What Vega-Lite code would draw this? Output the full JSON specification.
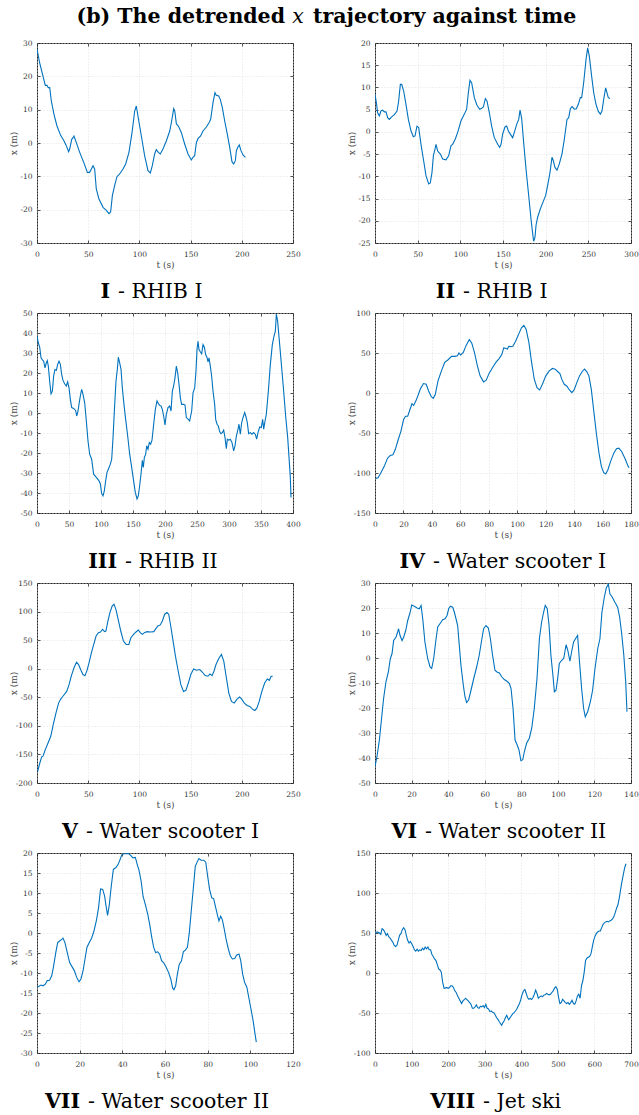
{
  "$schema": "https://vega.github.io/schema/vega-lite/v6.json",
  "background": "white",
  "padding": {"left": 8, "top": 7, "right": 4, "bottom": 4},
  "bounds": "flush",
  "spacing": 19,
  "datasets": {
    "p1": [{"t":0,"x":28.2},{"t":2.6,"x":24},{"t":5.9,"x":20},{"t":8.1,"x":17.3},{"t":9.8,"x":17.3},{"t":11,"x":16.6},{"t":12.4,"x":16.6},{"t":14,"x":12.6},{"t":16.6,"x":8.6},{"t":19.5,"x":5.1},{"t":23.1,"x":2.3},{"t":26.4,"x":0.6},{"t":28.6,"x":-0.8},{"t":30.9,"x":-2.6},{"t":31.9,"x":-1.8},{"t":33.9,"x":1.1},{"t":35.2,"x":1.6},{"t":36.1,"x":2.1},{"t":38.4,"x":0.1},{"t":41.7,"x":-2.8},{"t":45.6,"x":-5.8},{"t":49.2,"x":-8.8},{"t":51.4,"x":-8.8},{"t":53.1,"x":-7.8},{"t":54.7,"x":-6.8},{"t":56.3,"x":-7.8},{"t":57.9,"x":-13.8},{"t":60.5,"x":-16.8},{"t":64.5,"x":-19.3},{"t":67.7,"x":-20.2},{"t":70.3,"x":-21.2},{"t":71.9,"x":-20.7},{"t":73.6,"x":-15.8},{"t":75.8,"x":-12.8},{"t":78.1,"x":-10.1},{"t":80.7,"x":-9.3},{"t":84,"x":-7.8},{"t":86.6,"x":-6.3},{"t":89.8,"x":-2.8},{"t":92.8,"x":3.1},{"t":95.4,"x":9.6},{"t":97,"x":11.1},{"t":98.6,"x":8.1},{"t":101.9,"x":2.1},{"t":105.1,"x":-3.8},{"t":108.4,"x":-8.3},{"t":110.7,"x":-9},{"t":112.6,"x":-6.8},{"t":114.9,"x":-3.3},{"t":116.5,"x":-2},{"t":118.5,"x":-2.8},{"t":120.4,"x":-3.3},{"t":123,"x":-1.8},{"t":126.3,"x":0.6},{"t":129.6,"x":3.6},{"t":131.5,"x":6.6},{"t":133.5,"x":10.3},{"t":134.5,"x":9.6},{"t":136.1,"x":5.8},{"t":138.4,"x":4.9},{"t":141,"x":3.1},{"t":144.2,"x":-0.3},{"t":147.5,"x":-3.3},{"t":150.7,"x":-5.1},{"t":152.3,"x":-4.3},{"t":154,"x":-3.8},{"t":155.6,"x":0.1},{"t":157.2,"x":1.3},{"t":159.8,"x":2.1},{"t":162.1,"x":3.6},{"t":165.4,"x":4.8},{"t":168,"x":6.1},{"t":169.6,"x":7.1},{"t":171.9,"x":12.1},{"t":173.8,"x":15.1},{"t":175.1,"x":14.3},{"t":177.4,"x":14.1},{"t":179,"x":13.1},{"t":181,"x":10.6},{"t":183.3,"x":6.6},{"t":185.9,"x":2.6},{"t":188.2,"x":-1.3},{"t":190.4,"x":-5.6},{"t":192.1,"x":-6.3},{"t":193.7,"x":-5.3},{"t":194.7,"x":-2.3},{"t":196.3,"x":-1.1},{"t":197.6,"x":-0.6},{"t":199.2,"x":-2.3},{"t":201.2,"x":-3.6},{"t":203.5,"x":-4.3}],
    "p2": [{"t":0,"x":8.4},{"t":1.6,"x":6.6},{"t":3.1,"x":4.3},{"t":5.1,"x":3.6},{"t":7,"x":4.7},{"t":9,"x":4.9},{"t":10.9,"x":4.5},{"t":12.9,"x":4.5},{"t":14.8,"x":3.2},{"t":16.8,"x":2.8},{"t":19.5,"x":3.4},{"t":22.7,"x":3.9},{"t":25.8,"x":4.7},{"t":27.7,"x":6.9},{"t":29.7,"x":10.7},{"t":31.3,"x":10.7},{"t":33.6,"x":9.2},{"t":36.3,"x":6.2},{"t":39.1,"x":2.8},{"t":42.2,"x":0.2},{"t":44.9,"x":-1.1},{"t":46.9,"x":-0.9},{"t":49.2,"x":1.3},{"t":51.2,"x":1},{"t":53.9,"x":-2.8},{"t":57,"x":-6.5},{"t":59.8,"x":-9.9},{"t":62.9,"x":-11.7},{"t":64.8,"x":-11.5},{"t":66.8,"x":-9.1},{"t":68.4,"x":-5.4},{"t":70.3,"x":-3.9},{"t":71.5,"x":-2.8},{"t":73.4,"x":-4.3},{"t":76.6,"x":-5},{"t":79.3,"x":-6.1},{"t":83.2,"x":-6.3},{"t":86.3,"x":-5.4},{"t":89.1,"x":-3.1},{"t":91,"x":-2.8},{"t":94.1,"x":-1.6},{"t":96.9,"x":-0.1},{"t":100.8,"x":2.5},{"t":104.7,"x":4},{"t":107.4,"x":5.1},{"t":109.4,"x":8.8},{"t":111.3,"x":11.6},{"t":113.3,"x":11},{"t":116.4,"x":7.7},{"t":119.5,"x":6},{"t":122.7,"x":5.1},{"t":125,"x":5.3},{"t":127,"x":5.6},{"t":129.3,"x":7.5},{"t":131.3,"x":6.9},{"t":134,"x":4.3},{"t":136.7,"x":1.3},{"t":139.8,"x":-1.3},{"t":143.8,"x":-2.8},{"t":146.1,"x":-3.5},{"t":147.7,"x":-2.8},{"t":149.6,"x":-0.5},{"t":152.3,"x":1.1},{"t":154.3,"x":1.3},{"t":156.3,"x":0.2},{"t":158.6,"x":-0.5},{"t":161.3,"x":-1.3},{"t":163.3,"x":-0.1},{"t":166,"x":1.7},{"t":168.4,"x":2.8},{"t":170,"x":4.9},{"t":171.9,"x":3},{"t":174.2,"x":-2.4},{"t":177,"x":-8.4},{"t":180.1,"x":-14.3},{"t":182.8,"x":-19.6},{"t":184.8,"x":-22.9},{"t":185.9,"x":-24.6},{"t":187.5,"x":-23.7},{"t":188.7,"x":-21},{"t":190.6,"x":-19.2},{"t":193.8,"x":-17.3},{"t":196.9,"x":-15.8},{"t":200,"x":-14.3},{"t":202.3,"x":-12.1},{"t":205.1,"x":-9.1},{"t":207.4,"x":-5.7},{"t":209,"x":-6.5},{"t":210.9,"x":-8},{"t":213.3,"x":-8.6},{"t":216,"x":-7.2},{"t":219.1,"x":-5},{"t":221.9,"x":-1.6},{"t":225,"x":2.8},{"t":227,"x":3.2},{"t":228.9,"x":5.2},{"t":230.9,"x":5.7},{"t":233.6,"x":5.1},{"t":235.9,"x":5.2},{"t":238.3,"x":6.2},{"t":240.6,"x":7.7},{"t":242.2,"x":7.7},{"t":244.5,"x":11},{"t":247.3,"x":16.3},{"t":249.2,"x":18.9},{"t":251.2,"x":17},{"t":253.9,"x":12.5},{"t":256.3,"x":8.8},{"t":259,"x":6.2},{"t":261.7,"x":4.6},{"t":264.1,"x":4},{"t":266,"x":4.7},{"t":268,"x":7.3},{"t":270.3,"x":9.9},{"t":271.9,"x":8.8},{"t":273.4,"x":7.7},{"t":275.4,"x":7.5}],
    "p3": [{"t":0,"x":38.4},{"t":2.1,"x":35},{"t":4.2,"x":32.9},{"t":6.3,"x":27.6},{"t":8.3,"x":26.7},{"t":10.4,"x":25.9},{"t":12.5,"x":22.6},{"t":14.6,"x":25.1},{"t":16.1,"x":26.2},{"t":17.7,"x":23.4},{"t":19.8,"x":15.9},{"t":21.9,"x":9.6},{"t":24,"x":10.9},{"t":26,"x":18.4},{"t":28.1,"x":21.8},{"t":30.2,"x":21.3},{"t":32.3,"x":24.3},{"t":34.4,"x":25.9},{"t":36.5,"x":24.3},{"t":38.5,"x":19.3},{"t":40.6,"x":16.3},{"t":43.2,"x":14.6},{"t":45.8,"x":13.5},{"t":47.9,"x":15.6},{"t":50,"x":12.6},{"t":52.1,"x":6.8},{"t":54.2,"x":2.7},{"t":57.3,"x":2.3},{"t":60.4,"x":1.3},{"t":62,"x":-1.5},{"t":64.1,"x":1},{"t":65.6,"x":4.3},{"t":67.7,"x":8.5},{"t":69.8,"x":11.8},{"t":71.9,"x":9.3},{"t":74.5,"x":5.1},{"t":77.1,"x":-4},{"t":79.7,"x":-14},{"t":82.3,"x":-20.6},{"t":85.4,"x":-23.1},{"t":88.5,"x":-30.6},{"t":92.7,"x":-32.2},{"t":96.9,"x":-33.9},{"t":99,"x":-35.5},{"t":101,"x":-40.2},{"t":103.1,"x":-41.4},{"t":105.2,"x":-38.9},{"t":107.3,"x":-33.9},{"t":109.4,"x":-29.7},{"t":111.5,"x":-28.1},{"t":114.6,"x":-25.6},{"t":116.7,"x":-23.1},{"t":118.8,"x":-12.3},{"t":121.4,"x":4.3},{"t":123.4,"x":15.9},{"t":125.5,"x":21.8},{"t":127.1,"x":27.9},{"t":129.2,"x":25.1},{"t":131.3,"x":21.8},{"t":133.3,"x":12.6},{"t":135.9,"x":4.3},{"t":138.5,"x":-3.2},{"t":141.7,"x":-11.5},{"t":144.8,"x":-20.6},{"t":147.9,"x":-27.2},{"t":151,"x":-33.9},{"t":153.6,"x":-39.7},{"t":156.3,"x":-43},{"t":158.3,"x":-41.4},{"t":160.4,"x":-36.4},{"t":162.5,"x":-30.6},{"t":164.6,"x":-23.6},{"t":166.1,"x":-27.2},{"t":167.7,"x":-22.3},{"t":169.8,"x":-20.6},{"t":171.4,"x":-16.4},{"t":173.4,"x":-18.1},{"t":175.5,"x":-14.8},{"t":177.6,"x":-15.6},{"t":179.7,"x":-13.6},{"t":182.3,"x":-5.6},{"t":184.9,"x":1.8},{"t":187.5,"x":6},{"t":189.6,"x":4.7},{"t":191.7,"x":3.8},{"t":193.8,"x":3.5},{"t":195.8,"x":1.8},{"t":197.9,"x":-1.5},{"t":200,"x":-6},{"t":202.1,"x":-0.7},{"t":204.7,"x":2.7},{"t":207.3,"x":3.5},{"t":209.4,"x":1},{"t":211.5,"x":11},{"t":213.5,"x":13.5},{"t":215.6,"x":17.6},{"t":217.7,"x":23.4},{"t":219.8,"x":20.1},{"t":221.9,"x":14.3},{"t":224,"x":7.6},{"t":226,"x":4.3},{"t":229.2,"x":4.3},{"t":231.3,"x":4},{"t":233.3,"x":-2.3},{"t":236.5,"x":-3.2},{"t":238.5,"x":-4},{"t":241.7,"x":1},{"t":243.8,"x":10.1},{"t":246.4,"x":12.6},{"t":248.4,"x":20.9},{"t":250,"x":31.7},{"t":251.6,"x":35.9},{"t":253.1,"x":31.7},{"t":255.2,"x":30.6},{"t":257.3,"x":29.6},{"t":259.4,"x":34.2},{"t":261.5,"x":32.9},{"t":263.5,"x":29.2},{"t":265.6,"x":27.9},{"t":267.2,"x":25.6},{"t":268.8,"x":27.6},{"t":270.8,"x":23.4},{"t":272.9,"x":18.4},{"t":275,"x":11},{"t":277.6,"x":4.3},{"t":279.2,"x":-3.2},{"t":281.3,"x":-5.6},{"t":283.3,"x":-6.5},{"t":285.4,"x":-9.3},{"t":287.5,"x":-10.3},{"t":289.6,"x":-9.8},{"t":291.7,"x":-8.6},{"t":293.8,"x":-12.3},{"t":295.8,"x":-17.8},{"t":297.4,"x":-13.1},{"t":299.5,"x":-13.6},{"t":302.1,"x":-13.1},{"t":304.7,"x":-14.8},{"t":307.3,"x":-18.9},{"t":309.4,"x":-16.4},{"t":311.5,"x":-11.5},{"t":313.5,"x":-9},{"t":315.6,"x":-5.6},{"t":317.7,"x":-10.6},{"t":319.8,"x":-4.8},{"t":321.9,"x":-2.3},{"t":324.5,"x":0.2},{"t":326.6,"x":-2},{"t":328.6,"x":-4.8},{"t":330.7,"x":-10.3},{"t":333.3,"x":-9.8},{"t":335.9,"x":-10.6},{"t":338.5,"x":-9.8},{"t":341.1,"x":-10.6},{"t":343.2,"x":-13.1},{"t":345.3,"x":-9.8},{"t":347.9,"x":-7},{"t":350.5,"x":-7.3},{"t":352.6,"x":-3.2},{"t":354.2,"x":-8.1},{"t":356.3,"x":-4},{"t":358.3,"x":-0.7},{"t":361.5,"x":11},{"t":364.6,"x":24.3},{"t":367.7,"x":34.2},{"t":370.3,"x":38.4},{"t":372.4,"x":40.9},{"t":374,"x":49.5},{"t":376,"x":45.8},{"t":379.2,"x":34.2},{"t":382.3,"x":22.6},{"t":385.4,"x":11},{"t":388.5,"x":-1.5},{"t":391.7,"x":-12.3},{"t":393.8,"x":-22.3},{"t":395.8,"x":-32.2},{"t":396.9,"x":-42.2}],
    "p4": [{"t":0.5,"x":-106.7},{"t":2.1,"x":-105.9},{"t":4,"x":-100.4},{"t":6.4,"x":-92},{"t":8.8,"x":-81.5},{"t":10.7,"x":-78.2},{"t":12.6,"x":-77.3},{"t":14.2,"x":-71},{"t":16.3,"x":-58.4},{"t":18.2,"x":-47.9},{"t":20.1,"x":-33.2},{"t":21.5,"x":-29},{"t":23,"x":-29},{"t":24.6,"x":-20.6},{"t":26,"x":-13.4},{"t":27.2,"x":-15.5},{"t":28.7,"x":-10.1},{"t":30.1,"x":-3.8},{"t":32,"x":5.5},{"t":34.1,"x":11.8},{"t":36,"x":10.9},{"t":37.7,"x":2.5},{"t":39.6,"x":-4.6},{"t":41,"x":-6.7},{"t":42.4,"x":-1.7},{"t":44.3,"x":15.1},{"t":46.7,"x":27.7},{"t":49,"x":38.2},{"t":51.4,"x":41.6},{"t":53.8,"x":45.8},{"t":56.1,"x":45.8},{"t":58,"x":46.6},{"t":59,"x":50},{"t":60.2,"x":47.5},{"t":62.1,"x":50.8},{"t":64,"x":59.2},{"t":66.3,"x":66.8},{"t":68,"x":62.6},{"t":69.9,"x":50.8},{"t":72,"x":34},{"t":73.9,"x":21.4},{"t":76.3,"x":13.9},{"t":78.2,"x":16},{"t":80.3,"x":24.8},{"t":82.7,"x":31.9},{"t":85,"x":38.2},{"t":87.4,"x":43.3},{"t":89.3,"x":48.7},{"t":90.5,"x":56.3},{"t":91.7,"x":55.9},{"t":93.1,"x":55},{"t":94,"x":58.4},{"t":95.2,"x":58},{"t":96.9,"x":58.4},{"t":98.8,"x":64.3},{"t":101.1,"x":73.9},{"t":103,"x":81.5},{"t":104.7,"x":84.5},{"t":106.3,"x":79.4},{"t":108.2,"x":63.4},{"t":110.1,"x":38.2},{"t":112,"x":17.2},{"t":113.9,"x":6.7},{"t":115.8,"x":3.8},{"t":117.7,"x":10.9},{"t":120.1,"x":21.4},{"t":122.5,"x":27.7},{"t":124.8,"x":30.7},{"t":126.7,"x":29.8},{"t":128.4,"x":26.9},{"t":130,"x":24.4},{"t":131.5,"x":16.4},{"t":133.1,"x":10.9},{"t":134.8,"x":8.8},{"t":136.7,"x":3.8},{"t":138.4,"x":0.4},{"t":140,"x":3.8},{"t":141.9,"x":13},{"t":143.8,"x":21.4},{"t":145.7,"x":26.9},{"t":147.3,"x":29.8},{"t":149,"x":26.5},{"t":150.4,"x":21.4},{"t":152.1,"x":4.6},{"t":153.7,"x":-20.6},{"t":155.6,"x":-50},{"t":157.5,"x":-75.2},{"t":159.2,"x":-92},{"t":160.8,"x":-99.6},{"t":162.2,"x":-101.3},{"t":163.7,"x":-96.2},{"t":165.6,"x":-85.7},{"t":167.9,"x":-75.2},{"t":169.8,"x":-69.7},{"t":171.5,"x":-68.9},{"t":173.4,"x":-73.1},{"t":175.7,"x":-81.5},{"t":178.1,"x":-92},{"t":178.8,"x":-93.3}],
    "p5": [{"t":0.7,"x":-179.4},{"t":2.6,"x":-165.9},{"t":4.6,"x":-154.2},{"t":5.9,"x":-153},{"t":7.9,"x":-142.4},{"t":10.9,"x":-129.5},{"t":13.5,"x":-117.8},{"t":15.8,"x":-98.4},{"t":18.5,"x":-77.8},{"t":21.1,"x":-60.2},{"t":23.1,"x":-53.2},{"t":25.7,"x":-47.3},{"t":29,"x":-39.7},{"t":31.3,"x":-27.9},{"t":33.6,"x":-12.1},{"t":36.3,"x":2.6},{"t":38.6,"x":11.4},{"t":40.6,"x":7.3},{"t":42.9,"x":-2.7},{"t":44.9,"x":-10.3},{"t":46.8,"x":-12.1},{"t":48.8,"x":-3.3},{"t":50.8,"x":10.2},{"t":53.1,"x":27.9},{"t":55.4,"x":42.5},{"t":57.7,"x":57.2},{"t":60,"x":63.1},{"t":62,"x":64.3},{"t":64,"x":69},{"t":66,"x":64.9},{"t":67.3,"x":66},{"t":69.3,"x":83.6},{"t":71.2,"x":98.3},{"t":73.5,"x":110.1},{"t":75.2,"x":113},{"t":77.2,"x":103},{"t":79.2,"x":86.6},{"t":81.8,"x":66},{"t":84.4,"x":48.4},{"t":87.1,"x":42.5},{"t":89.7,"x":42.5},{"t":91.7,"x":54.3},{"t":94.3,"x":60.2},{"t":96.7,"x":64.3},{"t":98.9,"x":67.8},{"t":100.9,"x":63.1},{"t":102.9,"x":60.2},{"t":104.9,"x":63.1},{"t":107.5,"x":64.9},{"t":110.8,"x":64.3},{"t":114.1,"x":64.9},{"t":116.1,"x":70.1},{"t":118.1,"x":74.8},{"t":120.4,"x":76.6},{"t":122.4,"x":83.6},{"t":124.7,"x":95.4},{"t":127,"x":98.3},{"t":128.6,"x":95.4},{"t":130.6,"x":74.8},{"t":132.9,"x":48.4},{"t":135.2,"x":22},{"t":137.9,"x":-4.4},{"t":140.5,"x":-27.9},{"t":143.1,"x":-39.7},{"t":145.4,"x":-37.9},{"t":147.8,"x":-25},{"t":150.4,"x":-9.1},{"t":153,"x":-0.3},{"t":155.7,"x":-2.7},{"t":159,"x":-1.5},{"t":161.6,"x":-6.2},{"t":164.2,"x":-12.1},{"t":166.9,"x":-13.2},{"t":168.9,"x":-9.1},{"t":171,"x":-12.1},{"t":172.8,"x":-4.4},{"t":174.8,"x":7.3},{"t":177.4,"x":17.3},{"t":180.1,"x":24.9},{"t":182.4,"x":13.2},{"t":184.7,"x":-13.2},{"t":187.3,"x":-42.6},{"t":189.9,"x":-57.3},{"t":192.6,"x":-60.2},{"t":195.3,"x":-53.2},{"t":197.9,"x":-49.6},{"t":199.9,"x":-53.2},{"t":202.5,"x":-60.2},{"t":205.2,"x":-64.3},{"t":207.8,"x":-66.1},{"t":210.4,"x":-70.8},{"t":212.7,"x":-73.1},{"t":214.7,"x":-69},{"t":217,"x":-57.3},{"t":219.6,"x":-39.7},{"t":222.3,"x":-25},{"t":224.9,"x":-17.9},{"t":226.9,"x":-20.3},{"t":228.6,"x":-13.2},{"t":230.2,"x":-13.2}],
    "p6": [{"t":0,"x":-43.4},{"t":1.1,"x":-39.4},{"t":2.4,"x":-32.8},{"t":3.6,"x":-24.1},{"t":4.7,"x":-16.2},{"t":6,"x":-9.5},{"t":7.3,"x":-5.6},{"t":8.4,"x":-0.2},{"t":9.3,"x":1.7},{"t":10.2,"x":7},{"t":11.5,"x":8.4},{"t":12.4,"x":10.4},{"t":12.9,"x":11.7},{"t":13.7,"x":9},{"t":14.8,"x":7},{"t":15.7,"x":8.4},{"t":16.8,"x":11},{"t":17.9,"x":15},{"t":19,"x":17.7},{"t":20.1,"x":21.2},{"t":21.5,"x":20.7},{"t":23,"x":20},{"t":24.2,"x":19.7},{"t":25.2,"x":21},{"t":26.1,"x":15.7},{"t":27.3,"x":6.4},{"t":28.8,"x":-0.2},{"t":30.1,"x":-3.6},{"t":31,"x":-4.2},{"t":32.1,"x":-0.2},{"t":33.4,"x":7.7},{"t":34.3,"x":12.4},{"t":35.5,"x":13.7},{"t":37,"x":15.3},{"t":38.3,"x":15.7},{"t":39.4,"x":17},{"t":40.3,"x":19.7},{"t":41.2,"x":20.7},{"t":42.5,"x":20.3},{"t":43.4,"x":18.3},{"t":44.3,"x":15.7},{"t":45.2,"x":13},{"t":46.1,"x":5.1},{"t":47,"x":-2.9},{"t":48.3,"x":-10.9},{"t":49.2,"x":-15.5},{"t":50.1,"x":-17.8},{"t":51.2,"x":-16.8},{"t":52.5,"x":-12.9},{"t":54,"x":-8.2},{"t":55.6,"x":-3.6},{"t":57,"x":1.1},{"t":58.3,"x":7},{"t":59.4,"x":11.7},{"t":60.7,"x":13},{"t":62,"x":12},{"t":63.1,"x":7.7},{"t":64.3,"x":1.1},{"t":65.6,"x":-4.9},{"t":66.7,"x":-5.6},{"t":68,"x":-6},{"t":69.3,"x":-7.5},{"t":70.7,"x":-8.6},{"t":72.2,"x":-9.3},{"t":73.5,"x":-10.2},{"t":74.4,"x":-12.2},{"t":75.5,"x":-20.2},{"t":76.6,"x":-32.8},{"t":77.7,"x":-34.7},{"t":78.7,"x":-36.7},{"t":79.8,"x":-41.1},{"t":80.8,"x":-40.7},{"t":81.7,"x":-37.4},{"t":82.9,"x":-34.1},{"t":84.4,"x":-32.1},{"t":85.7,"x":-28.1},{"t":87.1,"x":-20.2},{"t":88.6,"x":-8.2},{"t":89.9,"x":7.7},{"t":91.1,"x":14.3},{"t":92.2,"x":18.3},{"t":93.1,"x":21},{"t":94.2,"x":19.7},{"t":95.2,"x":13},{"t":96.2,"x":1.1},{"t":97.3,"x":-6.9},{"t":98.1,"x":-13.5},{"t":99,"x":-12.9},{"t":99.9,"x":-8.2},{"t":100.8,"x":-2.2},{"t":102.1,"x":-0.9},{"t":103.2,"x":-0.2},{"t":104.5,"x":5.3},{"t":105.4,"x":3.1},{"t":106.6,"x":-1.3},{"t":107.5,"x":2.4},{"t":108.6,"x":6.4},{"t":109.9,"x":8},{"t":110.8,"x":9},{"t":111.7,"x":-0.2},{"t":113,"x":-12.2},{"t":114.1,"x":-20.2},{"t":115,"x":-23.5},{"t":116.3,"x":-21.5},{"t":117.8,"x":-17.5},{"t":119,"x":-12.9},{"t":120.3,"x":-4.2},{"t":121.8,"x":3.7},{"t":123,"x":7.7},{"t":124.1,"x":18.3},{"t":125.4,"x":24.3},{"t":126.5,"x":28},{"t":127.6,"x":29.6},{"t":128.5,"x":25.6},{"t":129.8,"x":24.3},{"t":131.2,"x":22.3},{"t":132.7,"x":20.3},{"t":133.8,"x":16.3},{"t":134.9,"x":9.7},{"t":136,"x":1.7},{"t":137.1,"x":-9.5},{"t":137.8,"x":-21.5}],
    "p7": [{"t":0,"x":-13.6},{"t":0.9,"x":-13.3},{"t":1.9,"x":-13},{"t":2.8,"x":-13.2},{"t":3.9,"x":-12.8},{"t":4.8,"x":-11.9},{"t":5.9,"x":-11.8},{"t":6.9,"x":-10.7},{"t":7.8,"x":-8.2},{"t":8.8,"x":-4.9},{"t":9.7,"x":-2.4},{"t":10.6,"x":-2},{"t":11.6,"x":-1.6},{"t":12.2,"x":-1.3},{"t":13.1,"x":-2.4},{"t":14.2,"x":-4.9},{"t":15.3,"x":-7.4},{"t":16.4,"x":-8.4},{"t":17.5,"x":-9.4},{"t":18.6,"x":-11.1},{"t":19.7,"x":-12.2},{"t":20.6,"x":-11.5},{"t":21.6,"x":-9.4},{"t":22.5,"x":-6.5},{"t":23.4,"x":-3.6},{"t":24.5,"x":-2.4},{"t":25.6,"x":-1.3},{"t":26.7,"x":0.5},{"t":27.8,"x":3},{"t":28.8,"x":6.1},{"t":29.8,"x":11},{"t":30.8,"x":10.9},{"t":31.7,"x":9.2},{"t":32.5,"x":6.3},{"t":33.1,"x":4.4},{"t":33.9,"x":7.1},{"t":34.8,"x":11.7},{"t":35.8,"x":15.9},{"t":36.9,"x":16.3},{"t":38,"x":17.1},{"t":38.9,"x":18.3},{"t":39.8,"x":19.6},{"t":40.8,"x":19.8},{"t":41.9,"x":19.8},{"t":43.1,"x":19.8},{"t":44.1,"x":19.3},{"t":45,"x":18.8},{"t":46.1,"x":18.9},{"t":47,"x":17.1},{"t":47.8,"x":15.7},{"t":48.8,"x":13},{"t":49.7,"x":9.2},{"t":50.8,"x":7.1},{"t":51.9,"x":4.7},{"t":52.8,"x":2.2},{"t":53.8,"x":-1.1},{"t":54.7,"x":-3.6},{"t":55.6,"x":-4.9},{"t":56.6,"x":-4.7},{"t":57.5,"x":-5.3},{"t":58.4,"x":-6.9},{"t":59.5,"x":-7.5},{"t":60.6,"x":-8.6},{"t":61.7,"x":-9.9},{"t":62.7,"x":-11.5},{"t":63.6,"x":-13.8},{"t":64.2,"x":-14.2},{"t":65,"x":-13.2},{"t":65.8,"x":-10.3},{"t":66.7,"x":-7.8},{"t":67.7,"x":-7},{"t":68.6,"x":-4.7},{"t":69.5,"x":-4.3},{"t":70.5,"x":-3.6},{"t":71.4,"x":0.1},{"t":72.3,"x":5.5},{"t":73.3,"x":11.3},{"t":74.2,"x":16.7},{"t":75.2,"x":17.9},{"t":75.9,"x":18.6},{"t":76.9,"x":18.2},{"t":78.1,"x":18.2},{"t":79.1,"x":17.7},{"t":80,"x":14.2},{"t":80.9,"x":10.9},{"t":81.9,"x":8.8},{"t":82.8,"x":8.6},{"t":83.8,"x":6.3},{"t":84.7,"x":4.2},{"t":85.3,"x":3},{"t":86.1,"x":4.2},{"t":86.9,"x":3.3},{"t":87.8,"x":0.9},{"t":88.8,"x":-2},{"t":89.7,"x":-4},{"t":90.6,"x":-5.7},{"t":91.6,"x":-6.5},{"t":92.7,"x":-6.4},{"t":93.6,"x":-5.5},{"t":94.7,"x":-5.3},{"t":95.5,"x":-6.9},{"t":96.4,"x":-10.3},{"t":97.3,"x":-12.3},{"t":98.4,"x":-13.6},{"t":99.4,"x":-16.5},{"t":100.3,"x":-19},{"t":101.3,"x":-21.9},{"t":102.2,"x":-25.2},{"t":102.8,"x":-27.3}],
    "p8": [{"t":0,"x":50},{"t":6.4,"x":51.3},{"t":12,"x":50},{"t":15.7,"x":48.3},{"t":19.3,"x":55.5},{"t":23,"x":54.2},{"t":26.7,"x":51.3},{"t":30.4,"x":47.1},{"t":34.1,"x":49.2},{"t":37.8,"x":45},{"t":41.4,"x":43.7},{"t":45.1,"x":40.8},{"t":48.8,"x":38.7},{"t":52.5,"x":34.5},{"t":56.2,"x":33.2},{"t":59.9,"x":34.5},{"t":63.6,"x":40.8},{"t":67.2,"x":47.1},{"t":70.9,"x":49.2},{"t":74.6,"x":54.2},{"t":78.3,"x":56.7},{"t":82,"x":54.2},{"t":85.7,"x":47.1},{"t":89.3,"x":40.8},{"t":93,"x":37.4},{"t":96.7,"x":39.5},{"t":100.4,"x":36.6},{"t":104.1,"x":33.2},{"t":107.8,"x":29},{"t":111.4,"x":27.3},{"t":115.1,"x":29.8},{"t":118.8,"x":27.3},{"t":122.5,"x":29},{"t":126.2,"x":28.2},{"t":129.9,"x":31.1},{"t":133.6,"x":29},{"t":137.2,"x":32.4},{"t":140.9,"x":30.3},{"t":144.6,"x":32.4},{"t":148.3,"x":29},{"t":152,"x":29},{"t":155.7,"x":23.1},{"t":159.3,"x":20.6},{"t":163,"x":17.6},{"t":166.7,"x":15.5},{"t":170.4,"x":10.5},{"t":174.1,"x":5},{"t":177.8,"x":3.8},{"t":181.4,"x":0.8},{"t":185.1,"x":-11.8},{"t":188.8,"x":-18.9},{"t":192.5,"x":-18.9},{"t":196.2,"x":-18.1},{"t":199.9,"x":-19.3},{"t":203.5,"x":-18.1},{"t":207.2,"x":-16},{"t":210.9,"x":-16},{"t":214.6,"x":-18.1},{"t":218.3,"x":-22.3},{"t":222,"x":-24.4},{"t":225.7,"x":-28.6},{"t":229.3,"x":-31.5},{"t":233,"x":-34.9},{"t":236.7,"x":-38.2},{"t":240.4,"x":-34.9},{"t":244.1,"x":-33.2},{"t":247.8,"x":-31.5},{"t":251.4,"x":-33.2},{"t":255.1,"x":-34.9},{"t":258.8,"x":-37},{"t":262.5,"x":-39.1},{"t":266.2,"x":-44.1},{"t":269.9,"x":-44.1},{"t":273.6,"x":-42.4},{"t":277.2,"x":-39.9},{"t":280.9,"x":-43.3},{"t":284.6,"x":-44.1},{"t":288.3,"x":-41.6},{"t":292,"x":-42.4},{"t":295.7,"x":-40.8},{"t":299.3,"x":-43.3},{"t":303,"x":-39.1},{"t":306.7,"x":-44.1},{"t":310.4,"x":-44.9},{"t":314.1,"x":-48.3},{"t":317.8,"x":-47.5},{"t":321.4,"x":-49.2},{"t":325.1,"x":-49.6},{"t":328.8,"x":-52.5},{"t":332.5,"x":-55.9},{"t":336.2,"x":-58},{"t":339.9,"x":-60.9},{"t":343.6,"x":-63.4},{"t":346.3,"x":-65.5},{"t":349.1,"x":-62.6},{"t":352.8,"x":-60.1},{"t":356.5,"x":-55.9},{"t":360.1,"x":-52.9},{"t":362.9,"x":-55.9},{"t":365.7,"x":-58.4},{"t":369.3,"x":-55.9},{"t":373,"x":-53.4},{"t":376.7,"x":-50.8},{"t":380.4,"x":-49.6},{"t":384.1,"x":-47.5},{"t":387.8,"x":-45},{"t":391.5,"x":-41.2},{"t":395.1,"x":-38.2},{"t":398.8,"x":-32.8},{"t":402.5,"x":-26.5},{"t":406.2,"x":-22.3},{"t":409.9,"x":-20.6},{"t":413.6,"x":-25.6},{"t":417.2,"x":-30.7},{"t":420.9,"x":-32.8},{"t":424.6,"x":-31.9},{"t":428.3,"x":-33.2},{"t":432,"x":-30.7},{"t":435.7,"x":-26.5},{"t":439.3,"x":-21.4},{"t":443,"x":-25.6},{"t":446.7,"x":-31.5},{"t":450.4,"x":-29.8},{"t":454.1,"x":-28.6},{"t":457.8,"x":-29.8},{"t":461.4,"x":-27.7},{"t":465.1,"x":-27.3},{"t":468.8,"x":-25.6},{"t":472.5,"x":-26.5},{"t":476.2,"x":-27.3},{"t":479.9,"x":-26.5},{"t":483.6,"x":-24.4},{"t":487.2,"x":-22.3},{"t":490.9,"x":-18.9},{"t":494.6,"x":-17.2},{"t":498.3,"x":-20.2},{"t":502,"x":-30.7},{"t":505.7,"x":-38.2},{"t":509.3,"x":-37},{"t":513,"x":-32.8},{"t":516.7,"x":-34.9},{"t":520.4,"x":-37},{"t":524.1,"x":-38.2},{"t":527.8,"x":-37},{"t":531.4,"x":-39.1},{"t":535.1,"x":-37},{"t":538.8,"x":-34.1},{"t":542.5,"x":-38.2},{"t":546.2,"x":-39.1},{"t":549.9,"x":-34.9},{"t":553.6,"x":-28.6},{"t":557.2,"x":-26.5},{"t":560.9,"x":-31.5},{"t":564.6,"x":-16},{"t":568.3,"x":-9.7},{"t":572,"x":0.8},{"t":575.7,"x":15.5},{"t":579.3,"x":18.5},{"t":583,"x":19.7},{"t":586.7,"x":20.6},{"t":590.4,"x":23.9},{"t":594.1,"x":32.4},{"t":597.8,"x":40.8},{"t":601.5,"x":45.8},{"t":605.1,"x":49.2},{"t":608.8,"x":51.3},{"t":612.5,"x":52.5},{"t":616.2,"x":52.5},{"t":619.9,"x":56.7},{"t":623.6,"x":60.9},{"t":627.2,"x":62.6},{"t":630.9,"x":63.9},{"t":634.6,"x":64.7},{"t":638.3,"x":63.9},{"t":642,"x":65.1},{"t":645.7,"x":66},{"t":649.4,"x":67.6},{"t":653,"x":70.2},{"t":656.7,"x":75.2},{"t":660.4,"x":80.7},{"t":664.1,"x":84.9},{"t":667.8,"x":93.3},{"t":671.5,"x":103.8},{"t":675.2,"x":114.3},{"t":678.8,"x":122.7},{"t":682.5,"x":131.1},{"t":686.2,"x":136.6}]
  },
  "vconcat": [
    {
      "width": 594,
      "height": 2,
      "view": {"stroke": null},
      "data": {"values": [{"lead": "(b) The detrended", "var": "x", "tail": "trajectory against time"}]},
      "layer": [
        {"mark": {"type": "text", "fontWeight": "bold", "fontSize": 20.5, "align": "right", "baseline": "alphabetic", "dx": -49, "color": "#000"}, "encoding": {"text": {"field": "lead"}}},
        {"mark": {"type": "text", "fontStyle": "italic", "fontSize": 20.5, "align": "center", "baseline": "alphabetic", "dx": -36, "color": "#000"}, "encoding": {"text": {"field": "var"}}},
        {"mark": {"type": "text", "fontWeight": "bold", "fontSize": 20.5, "align": "left", "baseline": "alphabetic", "dx": -21, "color": "#000"}, "encoding": {"text": {"field": "tail"}}}
      ]
    },
    {
      "vconcat": [
        {
          "hconcat": [
            {
              "width": 256, "height": 200,
              "resolve": {"axis": {"x": "independent", "y": "independent"}},
              "layer": [
                {"data": {"name": "p1"}, "mark": {"type": "line", "color": "#0072BD", "strokeWidth": 1.1, "clip": true},
                 "encoding": {
                   "x": {"field": "t", "type": "quantitative", "scale": {"domain": [0, 250], "nice": false, "zero": false}, "axis": {"title": "t (s)", "values": [0, 50, 100, 150, 200, 250]}},
                   "y": {"field": "x", "type": "quantitative", "scale": {"domain": [-30, 30], "nice": false, "zero": false}, "axis": {"title": "x (m)", "values": [-30, -20, -10, 0, 10, 20, 30]}}}},
                {"data": {"values": [{"num": "I", "name": "- RHIB I"}]},
                 "mark": {"type": "text", "fontWeight": "bold", "fontSize": 20.5, "align": "right", "baseline": "alphabetic", "dx": -55, "dy": 55, "color": "#000"},
                 "encoding": {
                   "text": {"field": "num"},
                   "x": {"datum": 125, "type": "quantitative", "scale": {"domain": [0, 250], "nice": false, "zero": false}, "axis": {"orient": "top", "labels": false, "title": null, "grid": false, "values": [0, 50, 100, 150, 200, 250]}},
                   "y": {"datum": -30, "type": "quantitative", "scale": {"domain": [-30, 30], "nice": false, "zero": false}, "axis": {"orient": "right", "labels": false, "title": null, "grid": false, "values": [-30, -20, -10, 0, 10, 20, 30]}}}},
                {"data": {"values": [{"num": "I", "name": "- RHIB I"}]},
                 "mark": {"type": "text", "fontSize": 20.5, "align": "left", "baseline": "alphabetic", "dx": -47, "dy": 55, "color": "#000"},
                 "encoding": {
                   "text": {"field": "name"},
                   "x": {"datum": 125, "type": "quantitative", "scale": {"domain": [0, 250], "nice": false, "zero": false}, "axis": null},
                   "y": {"datum": -30, "type": "quantitative", "scale": {"domain": [-30, 30], "nice": false, "zero": false}, "axis": null}}}
              ]
            },
            {
              "width": 256, "height": 200,
              "resolve": {"axis": {"x": "independent", "y": "independent"}},
              "layer": [
                {"data": {"name": "p2"}, "mark": {"type": "line", "color": "#0072BD", "strokeWidth": 1.1, "clip": true},
                 "encoding": {
                   "x": {"field": "t", "type": "quantitative", "scale": {"domain": [0, 300], "nice": false, "zero": false}, "axis": {"title": "t (s)", "values": [0, 50, 100, 150, 200, 250, 300]}},
                   "y": {"field": "x", "type": "quantitative", "scale": {"domain": [-25, 20], "nice": false, "zero": false}, "axis": {"title": "x (m)", "values": [-25, -20, -15, -10, -5, 0, 5, 10, 15, 20]}}}},
                {"data": {"values": [{"num": "II", "name": "- RHIB I"}]},
                 "mark": {"type": "text", "fontWeight": "bold", "fontSize": 20.5, "align": "right", "baseline": "alphabetic", "dx": -48, "dy": 55, "color": "#000"},
                 "encoding": {
                   "text": {"field": "num"},
                   "x": {"datum": 150, "type": "quantitative", "scale": {"domain": [0, 300], "nice": false, "zero": false}, "axis": {"orient": "top", "labels": false, "title": null, "grid": false, "values": [0, 50, 100, 150, 200, 250, 300]}},
                   "y": {"datum": -25, "type": "quantitative", "scale": {"domain": [-25, 20], "nice": false, "zero": false}, "axis": {"orient": "right", "labels": false, "title": null, "grid": false, "values": [-25, -20, -15, -10, -5, 0, 5, 10, 15, 20]}}}},
                {"data": {"values": [{"num": "II", "name": "- RHIB I"}]},
                 "mark": {"type": "text", "fontSize": 20.5, "align": "left", "baseline": "alphabetic", "dx": -40, "dy": 55, "color": "#000"},
                 "encoding": {
                   "text": {"field": "name"},
                   "x": {"datum": 150, "type": "quantitative", "scale": {"domain": [0, 300], "nice": false, "zero": false}, "axis": null},
                   "y": {"datum": -25, "type": "quantitative", "scale": {"domain": [-25, 20], "nice": false, "zero": false}, "axis": null}}}
              ]
            }
          ],
          "spacing": 82,
          "bounds": "flush"
        },
        {
          "hconcat": [
            {
              "width": 256, "height": 200,
              "resolve": {"axis": {"x": "independent", "y": "independent"}},
              "layer": [
                {"data": {"name": "p3"}, "mark": {"type": "line", "color": "#0072BD", "strokeWidth": 1.1, "clip": true},
                 "encoding": {
                   "x": {"field": "t", "type": "quantitative", "scale": {"domain": [0, 400], "nice": false, "zero": false}, "axis": {"title": "t (s)", "values": [0, 50, 100, 150, 200, 250, 300, 350, 400]}},
                   "y": {"field": "x", "type": "quantitative", "scale": {"domain": [-50, 50], "nice": false, "zero": false}, "axis": {"title": "x (m)", "values": [-50, -40, -30, -20, -10, 0, 10, 20, 30, 40, 50]}}}},
                {"data": {"values": [{"num": "III", "name": "- RHIB II"}]},
                 "mark": {"type": "text", "fontWeight": "bold", "fontSize": 20.5, "align": "right", "baseline": "alphabetic", "dx": -48, "dy": 55, "color": "#000"},
                 "encoding": {
                   "text": {"field": "num"},
                   "x": {"datum": 200, "type": "quantitative", "scale": {"domain": [0, 400], "nice": false, "zero": false}, "axis": {"orient": "top", "labels": false, "title": null, "grid": false, "values": [0, 50, 100, 150, 200, 250, 300, 350, 400]}},
                   "y": {"datum": -50, "type": "quantitative", "scale": {"domain": [-50, 50], "nice": false, "zero": false}, "axis": {"orient": "right", "labels": false, "title": null, "grid": false, "values": [-50, -40, -30, -20, -10, 0, 10, 20, 30, 40, 50]}}}},
                {"data": {"values": [{"num": "III", "name": "- RHIB II"}]},
                 "mark": {"type": "text", "fontSize": 20.5, "align": "left", "baseline": "alphabetic", "dx": -40, "dy": 55, "color": "#000"},
                 "encoding": {
                   "text": {"field": "name"},
                   "x": {"datum": 200, "type": "quantitative", "scale": {"domain": [0, 400], "nice": false, "zero": false}, "axis": null},
                   "y": {"datum": -50, "type": "quantitative", "scale": {"domain": [-50, 50], "nice": false, "zero": false}, "axis": null}}}
              ]
            },
            {
              "width": 256, "height": 200,
              "resolve": {"axis": {"x": "independent", "y": "independent"}},
              "layer": [
                {"data": {"name": "p4"}, "mark": {"type": "line", "color": "#0072BD", "strokeWidth": 1.1, "clip": true},
                 "encoding": {
                   "x": {"field": "t", "type": "quantitative", "scale": {"domain": [0, 180], "nice": false, "zero": false}, "axis": {"title": "t (s)", "values": [0, 20, 40, 60, 80, 100, 120, 140, 160, 180]}},
                   "y": {"field": "x", "type": "quantitative", "scale": {"domain": [-150, 100], "nice": false, "zero": false}, "axis": {"title": "x (m)", "values": [-150, -100, -50, 0, 50, 100]}}}},
                {"data": {"values": [{"num": "IV", "name": "- Water scooter I"}]},
                 "mark": {"type": "text", "fontWeight": "bold", "fontSize": 20.5, "align": "right", "baseline": "alphabetic", "dx": -78, "dy": 55, "color": "#000"},
                 "encoding": {
                   "text": {"field": "num"},
                   "x": {"datum": 90, "type": "quantitative", "scale": {"domain": [0, 180], "nice": false, "zero": false}, "axis": {"orient": "top", "labels": false, "title": null, "grid": false, "values": [0, 20, 40, 60, 80, 100, 120, 140, 160, 180]}},
                   "y": {"datum": -150, "type": "quantitative", "scale": {"domain": [-150, 100], "nice": false, "zero": false}, "axis": {"orient": "right", "labels": false, "title": null, "grid": false, "values": [-150, -100, -50, 0, 50, 100]}}}},
                {"data": {"values": [{"num": "IV", "name": "- Water scooter I"}]},
                 "mark": {"type": "text", "fontSize": 20.5, "align": "left", "baseline": "alphabetic", "dx": -70, "dy": 55, "color": "#000"},
                 "encoding": {
                   "text": {"field": "name"},
                   "x": {"datum": 90, "type": "quantitative", "scale": {"domain": [0, 180], "nice": false, "zero": false}, "axis": null},
                   "y": {"datum": -150, "type": "quantitative", "scale": {"domain": [-150, 100], "nice": false, "zero": false}, "axis": null}}}
              ]
            }
          ],
          "spacing": 82,
          "bounds": "flush"
        },
        {
          "hconcat": [
            {
              "width": 256, "height": 200,
              "resolve": {"axis": {"x": "independent", "y": "independent"}},
              "layer": [
                {"data": {"name": "p5"}, "mark": {"type": "line", "color": "#0072BD", "strokeWidth": 1.1, "clip": true},
                 "encoding": {
                   "x": {"field": "t", "type": "quantitative", "scale": {"domain": [0, 250], "nice": false, "zero": false}, "axis": {"title": "t (s)", "values": [0, 50, 100, 150, 200, 250]}},
                   "y": {"field": "x", "type": "quantitative", "scale": {"domain": [-200, 150], "nice": false, "zero": false}, "axis": {"title": "x (m)", "values": [-200, -150, -100, -50, 0, 50, 100, 150]}}}},
                {"data": {"values": [{"num": "V", "name": "- Water scooter I"}]},
                 "mark": {"type": "text", "fontWeight": "bold", "fontSize": 20.5, "align": "right", "baseline": "alphabetic", "dx": -87, "dy": 55, "color": "#000"},
                 "encoding": {
                   "text": {"field": "num"},
                   "x": {"datum": 125, "type": "quantitative", "scale": {"domain": [0, 250], "nice": false, "zero": false}, "axis": {"orient": "top", "labels": false, "title": null, "grid": false, "values": [0, 50, 100, 150, 200, 250]}},
                   "y": {"datum": -200, "type": "quantitative", "scale": {"domain": [-200, 150], "nice": false, "zero": false}, "axis": {"orient": "right", "labels": false, "title": null, "grid": false, "values": [-200, -150, -100, -50, 0, 50, 100, 150]}}}},
                {"data": {"values": [{"num": "V", "name": "- Water scooter I"}]},
                 "mark": {"type": "text", "fontSize": 20.5, "align": "left", "baseline": "alphabetic", "dx": -79, "dy": 55, "color": "#000"},
                 "encoding": {
                   "text": {"field": "name"},
                   "x": {"datum": 125, "type": "quantitative", "scale": {"domain": [0, 250], "nice": false, "zero": false}, "axis": null},
                   "y": {"datum": -200, "type": "quantitative", "scale": {"domain": [-200, 150], "nice": false, "zero": false}, "axis": null}}}
              ]
            },
            {
              "width": 256, "height": 200,
              "resolve": {"axis": {"x": "independent", "y": "independent"}},
              "layer": [
                {"data": {"name": "p6"}, "mark": {"type": "line", "color": "#0072BD", "strokeWidth": 1.1, "clip": true},
                 "encoding": {
                   "x": {"field": "t", "type": "quantitative", "scale": {"domain": [0, 140], "nice": false, "zero": false}, "axis": {"title": "t (s)", "values": [0, 20, 40, 60, 80, 100, 120, 140]}},
                   "y": {"field": "x", "type": "quantitative", "scale": {"domain": [-50, 30], "nice": false, "zero": false}, "axis": {"title": "x (m)", "values": [-50, -40, -30, -20, -10, 0, 10, 20, 30]}}}},
                {"data": {"values": [{"num": "VI", "name": "- Water scooter II"}]},
                 "mark": {"type": "text", "fontWeight": "bold", "fontSize": 20.5, "align": "right", "baseline": "alphabetic", "dx": -86, "dy": 55, "color": "#000"},
                 "encoding": {
                   "text": {"field": "num"},
                   "x": {"datum": 70, "type": "quantitative", "scale": {"domain": [0, 140], "nice": false, "zero": false}, "axis": {"orient": "top", "labels": false, "title": null, "grid": false, "values": [0, 20, 40, 60, 80, 100, 120, 140]}},
                   "y": {"datum": -50, "type": "quantitative", "scale": {"domain": [-50, 30], "nice": false, "zero": false}, "axis": {"orient": "right", "labels": false, "title": null, "grid": false, "values": [-50, -40, -30, -20, -10, 0, 10, 20, 30]}}}},
                {"data": {"values": [{"num": "VI", "name": "- Water scooter II"}]},
                 "mark": {"type": "text", "fontSize": 20.5, "align": "left", "baseline": "alphabetic", "dx": -78, "dy": 55, "color": "#000"},
                 "encoding": {
                   "text": {"field": "name"},
                   "x": {"datum": 70, "type": "quantitative", "scale": {"domain": [0, 140], "nice": false, "zero": false}, "axis": null},
                   "y": {"datum": -50, "type": "quantitative", "scale": {"domain": [-50, 30], "nice": false, "zero": false}, "axis": null}}}
              ]
            }
          ],
          "spacing": 82,
          "bounds": "flush"
        },
        {
          "hconcat": [
            {
              "width": 256, "height": 200,
              "resolve": {"axis": {"x": "independent", "y": "independent"}},
              "layer": [
                {"data": {"name": "p7"}, "mark": {"type": "line", "color": "#0072BD", "strokeWidth": 1.1, "clip": true},
                 "encoding": {
                   "x": {"field": "t", "type": "quantitative", "scale": {"domain": [0, 120], "nice": false, "zero": false}, "axis": {"title": "t (s)", "values": [0, 20, 40, 60, 80, 100, 120]}},
                   "y": {"field": "x", "type": "quantitative", "scale": {"domain": [-30, 20], "nice": false, "zero": false}, "axis": {"title": "x (m)", "values": [-30, -25, -20, -15, -10, -5, 0, 5, 10, 15, 20]}}}},
                {"data": {"values": [{"num": "VII", "name": "- Water scooter II"}]},
                 "mark": {"type": "text", "fontWeight": "bold", "fontSize": 20.5, "align": "right", "baseline": "alphabetic", "dx": -85, "dy": 55, "color": "#000"},
                 "encoding": {
                   "text": {"field": "num"},
                   "x": {"datum": 60, "type": "quantitative", "scale": {"domain": [0, 120], "nice": false, "zero": false}, "axis": {"orient": "top", "labels": false, "title": null, "grid": false, "values": [0, 20, 40, 60, 80, 100, 120]}},
                   "y": {"datum": -30, "type": "quantitative", "scale": {"domain": [-30, 20], "nice": false, "zero": false}, "axis": {"orient": "right", "labels": false, "title": null, "grid": false, "values": [-30, -25, -20, -15, -10, -5, 0, 5, 10, 15, 20]}}}},
                {"data": {"values": [{"num": "VII", "name": "- Water scooter II"}]},
                 "mark": {"type": "text", "fontSize": 20.5, "align": "left", "baseline": "alphabetic", "dx": -77, "dy": 55, "color": "#000"},
                 "encoding": {
                   "text": {"field": "name"},
                   "x": {"datum": 60, "type": "quantitative", "scale": {"domain": [0, 120], "nice": false, "zero": false}, "axis": null},
                   "y": {"datum": -30, "type": "quantitative", "scale": {"domain": [-30, 20], "nice": false, "zero": false}, "axis": null}}}
              ]
            },
            {
              "width": 256, "height": 200,
              "resolve": {"axis": {"x": "independent", "y": "independent"}},
              "layer": [
                {"data": {"name": "p8"}, "mark": {"type": "line", "color": "#0072BD", "strokeWidth": 1.1, "clip": true},
                 "encoding": {
                   "x": {"field": "t", "type": "quantitative", "scale": {"domain": [0, 700], "nice": false, "zero": false}, "axis": {"title": "t (s)", "values": [0, 100, 200, 300, 400, 500, 600, 700]}},
                   "y": {"field": "x", "type": "quantitative", "scale": {"domain": [-100, 150], "nice": false, "zero": false}, "axis": {"title": "x (m)", "values": [-100, -50, 0, 50, 100, 150]}}}},
                {"data": {"values": [{"num": "VIII", "name": "- Jet ski"}]},
                 "mark": {"type": "text", "fontWeight": "bold", "fontSize": 20.5, "align": "right", "baseline": "alphabetic", "dx": -28, "dy": 55, "color": "#000"},
                 "encoding": {
                   "text": {"field": "num"},
                   "x": {"datum": 350, "type": "quantitative", "scale": {"domain": [0, 700], "nice": false, "zero": false}, "axis": {"orient": "top", "labels": false, "title": null, "grid": false, "values": [0, 100, 200, 300, 400, 500, 600, 700]}},
                   "y": {"datum": -100, "type": "quantitative", "scale": {"domain": [-100, 150], "nice": false, "zero": false}, "axis": {"orient": "right", "labels": false, "title": null, "grid": false, "values": [-100, -50, 0, 50, 100, 150]}}}},
                {"data": {"values": [{"num": "VIII", "name": "- Jet ski"}]},
                 "mark": {"type": "text", "fontSize": 20.5, "align": "left", "baseline": "alphabetic", "dx": -20, "dy": 55, "color": "#000"},
                 "encoding": {
                   "text": {"field": "name"},
                   "x": {"datum": 350, "type": "quantitative", "scale": {"domain": [0, 700], "nice": false, "zero": false}, "axis": null},
                   "y": {"datum": -100, "type": "quantitative", "scale": {"domain": [-100, 150], "nice": false, "zero": false}, "axis": null}}}
              ]
            }
          ],
          "spacing": 82,
          "bounds": "flush"
        }
      ],
      "spacing": 270,
      "bounds": "flush"
    }
  ],
  "config": {
    "font": "DejaVu Serif",
    "view": {"stroke": "#262626", "strokeWidth": 1},
    "axis": {
      "labelFont": "DejaVu Serif", "labelFontSize": 7.5, "labelColor": "#3a3a3a",
      "titleFont": "DejaVu Serif", "titleFontSize": 9, "titleFontWeight": "normal", "titleColor": "#4a4a4a",
      "tickColor": "#262626", "tickSize": -3, "tickWidth": 0.8, "domain": false,
      "gridColor": "#d9d9d9", "gridDash": [1, 2], "gridWidth": 0.8,
      "labelFlush": false, "labelOverlap": false
    },
    "axisX": {"labelPadding": 10, "titlePadding": 3},
    "axisY": {"labelPadding": 8, "titleX": -24, "titleBaseline": "middle"},
    "text": {"font": "DejaVu Serif"},
    "locale": {"number": {"decimal": ".", "thousands": ",", "grouping": [3], "currency": ["$", ""], "minus": "-"}}
  }
}
